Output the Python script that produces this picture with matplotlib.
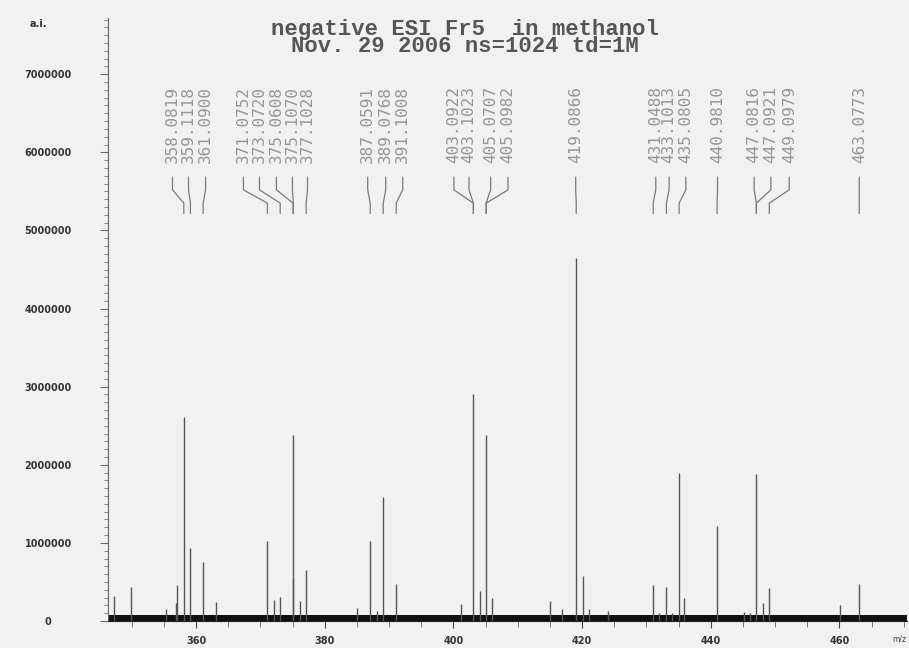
import matplotlib
matplotlib.use("Agg")
import matplotlib.pyplot as plt
from matplotlib.ticker import MultipleLocator

# peak list (m/z, intensity)
peak_mz = [347.2, 349.9, 355.3, 356.9, 357.1, 358.0819, 359.1118, 361.0900, 363.1,
           371.0752, 372.1, 373.0720, 375.0608, 375.1070, 376.1, 377.1028,
           385.0, 387.0591, 388.06, 389.0768, 391.1008,
           401.1, 403.0922, 404.07, 405.0707, 406.05, 414.96, 416.94,
           419.0866, 420.09, 421.07, 424.09,
           431.0488, 431.96, 433.1013, 433.9, 435.0805, 435.85,
           440.9810, 445.09, 446.07, 447.0816, 448.05, 449.0979,
           460.12, 463.0773]
peak_int = [0.32e6, 0.44e6, 0.15e6, 0.23e6, 0.46e6, 2.61e6, 0.93e6, 0.76e6, 0.24e6,
            1.03e6, 0.27e6, 0.31e6, 2.38e6, 0.55e6, 0.26e6, 0.65e6,
            0.17e6, 1.03e6, 0.13e6, 1.59e6, 0.47e6,
            0.22e6, 2.905e6, 0.38e6, 2.38e6, 0.30e6, 0.26e6, 0.15e6,
            4.65e6, 0.58e6, 0.15e6, 0.13e6,
            0.46e6, 0.10e6, 0.44e6, 0.10e6, 1.89e6, 0.29e6,
            1.21e6, 0.12e6, 0.10e6, 1.88e6, 0.23e6, 0.42e6,
            0.20e6, 0.47e6]

# annotated masses, and where the label column sits on the m/z axis
label_text = ["358.0819", "359.1118", "361.0900",
              "371.0752", "373.0720", "375.0608", "375.1070", "377.1028",
              "387.0591", "389.0768", "391.1008",
              "403.0922", "403.1023", "405.0707", "405.0982",
              "419.0866",
              "431.0488", "433.1013", "435.0805",
              "440.9810",
              "447.0816", "447.0921", "449.0979",
              "463.0773"]
label_pos = [356.33, 358.82, 361.47,
             367.35, 369.84, 372.48, 374.97, 377.31,
             386.67, 389.47, 392.11,
             400.07, 402.41, 405.78, 408.47,
             419.0,
             431.45, 433.52, 436.12,
             441.05,
             446.74, 449.34, 452.19,
             463.08]

title_lines = ["negative ESI Fr5  in methanol", "Nov. 29 2006 ns=1024 td=1M"]

fig = plt.figure(figsize=(9.09, 6.48), dpi=100, facecolor="#f1f1f1")
ax = fig.add_axes([108 / 909, 27 / 648, 799 / 909, 603 / 648])
ax.set_facecolor("#f1f1f1")

# noise floor
ax.axhspan(0, 75000, color="#111111", lw=0)

ax.vlines(peak_mz, 0, peak_int, color="#555555", lw=1.0)

# label columns with connector lines
y_txt, y_a, y_b, y_end = 5.86e6, 5.52e6, 5.35e6, 5.22e6
for txt, lx in zip(label_text, label_pos):
    mz = float(txt)
    ax.plot([lx, lx, mz, mz], [y_txt - 0.18e6, y_a, y_b, y_end], color="#7a7a7a", lw=0.9)
    ax.text(lx, y_txt, txt, rotation=90, ha="center", va="bottom",
            family="DejaVu Sans Mono", fontsize=11.5, color="#959595")

ax.set_xlim(346.3, 470.5)
ax.set_ylim(0, 7.72e6)

for s in ["top", "right"]:
    ax.spines[s].set_visible(False)
ax.spines["left"].set_color("#666666")
ax.spines["bottom"].set_color("#222222")

ax.xaxis.set_major_locator(MultipleLocator(20))
ax.xaxis.set_minor_locator(MultipleLocator(5))
ax.yaxis.set_major_locator(MultipleLocator(1e6))
ax.yaxis.set_minor_locator(MultipleLocator(1e5))
ax.yaxis.set_major_formatter(plt.FuncFormatter(lambda v, p: f"{int(round(v))}"))

ax.tick_params(axis="y", which="major", length=6, color="#666666", pad=37,
               labelsize=7, labelcolor="#333333")
ax.tick_params(axis="y", which="minor", length=3, color="#777777")
ax.tick_params(axis="x", which="major", length=5, color="#444444", pad=6,
               labelsize=7, labelcolor="#333333")
ax.tick_params(axis="x", which="minor", length=4, color="#666666")
for lab in ax.get_yticklabels():
    lab.set_horizontalalignment("center")
    lab.set_fontweight("bold")
for lab in ax.get_xticklabels():
    lab.set_fontweight("bold")

ax.text(469.3, -0.23e6, "m/z", ha="center", va="center", fontsize=5.5, color="#444444")
fig.text(38 / 909, 1 - 24 / 648, "a.i.", ha="center", va="center",
         fontsize=7, fontweight="bold", color="#333333")

fig.text(465 / 909, 1 - 38 / 648, "\n".join(title_lines), ha="center", va="center",
         multialignment="center", linespacing=0.72,
         family="Liberation Mono", fontsize=16, fontweight="bold", color="#555555")

fig.savefig("out.png", dpi=100, facecolor=fig.get_facecolor())
